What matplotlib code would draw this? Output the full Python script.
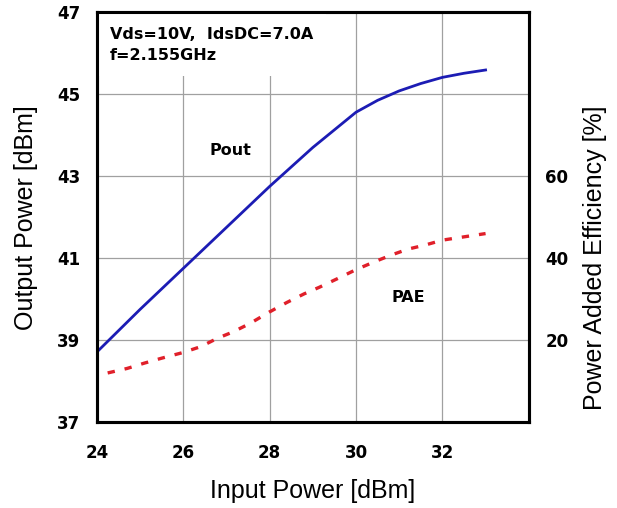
import numpy as np
import matplotlib.pyplot as plt

plt.rcParams['font.family'] = ['Liberation Sans', 'DejaVu Sans']

pin = [24, 25, 26, 27, 28, 29, 30, 30.5, 31, 31.5, 32, 32.5, 33]
pout = [38.71, 39.75, 40.75, 41.75, 42.75, 43.70, 44.56, 44.85, 45.08, 45.26, 45.41, 45.51, 45.59]

pin_pae = [24.25, 24.7, 25.1, 25.5, 26, 26.4, 26.8, 27.15, 27.55, 28, 28.4, 28.8, 29.15, 29.55,
           30, 30.4, 30.8, 31.2, 31.6, 32, 32.5, 33]
pae = [12.0, 13.1, 14.4, 15.6, 17.0, 18.4, 20.5, 22.0, 24.1, 26.9, 29.2, 31.3, 32.9, 34.9,
       37.2, 39.0, 40.7, 42.2, 43.2, 44.4, 45.2, 46.0]

bold = dict(family='DejaVu Sans', fontweight='bold')

fig = plt.figure(figsize=(6.17, 5.08), dpi=100)
ax = fig.add_axes([0.157, 0.169, 0.7, 0.807])

ax.plot(pin, pout, color='#1c1cb4', lw=2.0)
ax.set_xlim(24, 34)
ax.set_ylim(37, 47)
ax.set_xticks([24, 26, 28, 30, 32])
ax.set_yticks([37, 39, 41, 43, 45, 47])
ax.grid(color='#a0a0a0', lw=0.9)
ax.tick_params(length=0, labelsize=12)
ax.tick_params(axis='y', pad=12)
ax.tick_params(axis='x', pad=16)
for lab in ax.get_xticklabels() + ax.get_yticklabels():
    lab.set_fontweight('bold')
    lab.set_family('DejaVu Sans')
for s in ax.spines.values():
    s.set_linewidth(2.2)

ax.set_xlabel('Input Power [dBm]', fontsize=18, labelpad=12)
ax.set_ylabel('Output Power [dBm]', fontsize=18, labelpad=14)

ax.text(24.3, 46.65, 'Vds=10V,  IdsDC=7.0A\nf=2.155GHz', fontsize=11.5,
        va='top', ha='left', linespacing=1.55,
        bbox=dict(facecolor='white', edgecolor='none', pad=9), zorder=3, **bold)
ax.text(27.1, 43.63, 'Pout', fontsize=11.5, ha='center', va='center', **bold)
ax.text(31.2, 40.05, 'PAE', fontsize=11.5, ha='center', va='center', **bold)

ax2 = ax.twinx()
ax2.plot(pin_pae, pae, color='#e0202a', lw=2.4, dashes=(2.2, 3.0))
ax2.set_ylim(0, 100)
ax2.set_yticks([20, 40, 60])
ax2.tick_params(length=0, labelsize=12, pad=12)
for lab in ax2.get_yticklabels():
    lab.set_fontweight('bold')
    lab.set_family('DejaVu Sans')
for s in ax2.spines.values():
    s.set_linewidth(2.2)
ax2.set_ylabel('Power Added Efficiency [%]', fontsize=18)
ax2.yaxis.set_label_coords(1.125, 0.40)

fig.savefig('out.png', dpi=100)
